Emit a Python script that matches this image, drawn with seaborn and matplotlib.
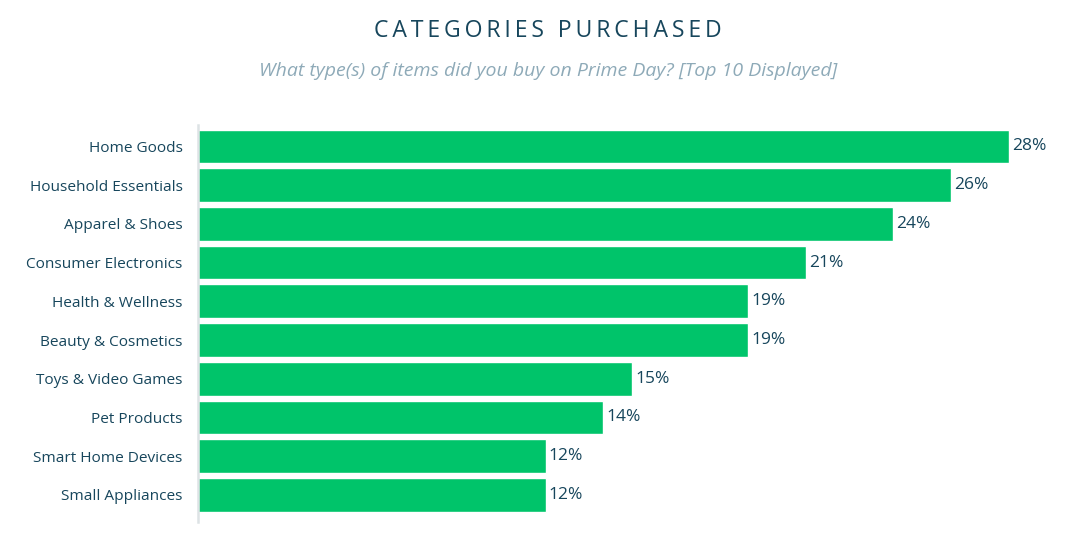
import seaborn as sns
import matplotlib.pyplot as plt
import pandas as pd

categories = ['Home Goods', 'Household Essentials', 'Apparel & Shoes', 'Consumer Electronics',
              'Health & Wellness', 'Beauty & Cosmetics', 'Toys & Video Games', 'Pet Products',
              'Smart Home Devices', 'Small Appliances']
shares = [28, 26, 24, 21, 19, 19, 15, 14, 12, 12]

df = pd.DataFrame({'category': categories, 'share': shares})

sns.set_theme(style='white')
plt.rcParams['font.family'] = ['Open Sans', 'DejaVu Sans']

text_color = '#17465c'
bar_color = '#00c46a'

fig = plt.figure(figsize=(10.74, 5.41), dpi=100)
ax = fig.add_axes([198 / 1074, 19 / 541, 862 / 1074, 397 / 541])

sns.barplot(data=df, x='share', y='category', color=bar_color, width=0.87,
            saturation=1, ax=ax)

ax.set_xlim(0, 862 / 28.96)
ax.set_ylim(9.70, -0.555)

for i, v in enumerate(shares):
    ax.text(v + 0.1, i, f'{v}%', va='center', ha='left', fontsize=12.5, color=text_color)

ax.set_xlabel('')
ax.set_ylabel('')
ax.set_xticks([])
ax.tick_params(axis='y', length=0, pad=11, labelsize=11.1, labelcolor=text_color)
for s in ['top', 'right', 'bottom']:
    ax.spines[s].set_visible(False)
ax.spines['left'].set_color('#dde3e5')
ax.spines['left'].set_linewidth(1.8)

# spaced-out title, centred a bit right of the figure middle like the original
cx = 548 / 1074
title = '\u2009'.join('CATEGORIES PURCHASED')
fig.text(cx, 1 - 31 / 541, title, ha='center', va='center',
         fontsize=16.6, color=text_color)
fig.text(cx, 1 - 71 / 541, 'What type(s) of items did you buy on Prime Day? [Top 10 Displayed]',
         ha='center', va='center', fontsize=14, style='italic', color='#8eaab8')

fig.savefig('out.png', dpi=100, facecolor='white')
